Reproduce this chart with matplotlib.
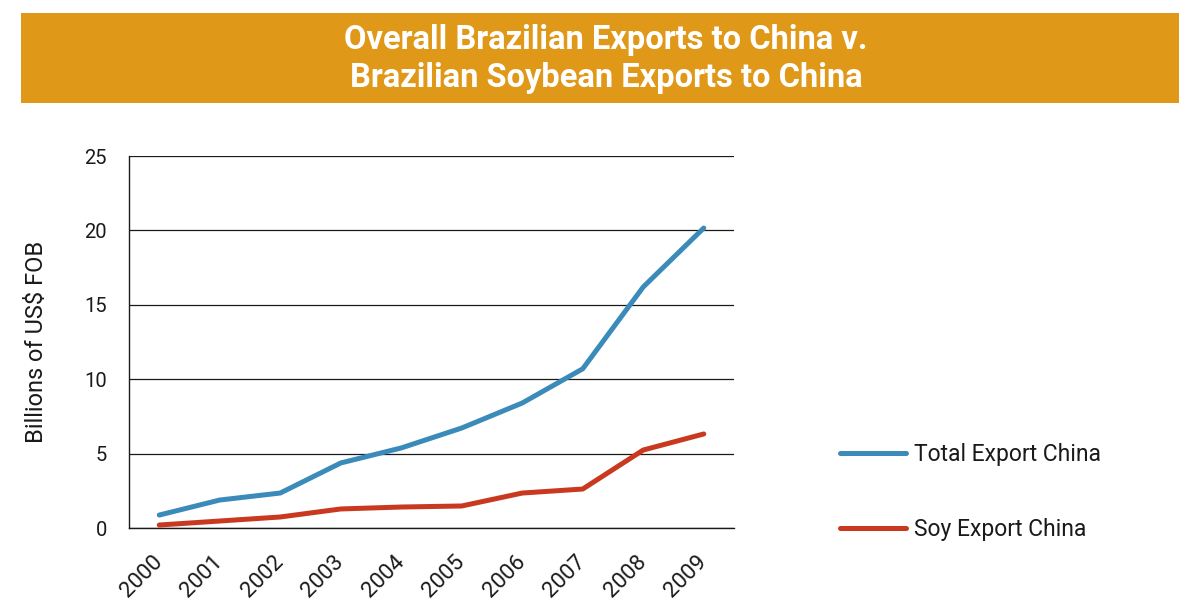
import matplotlib
matplotlib.use("Agg")
import matplotlib.pyplot as plt
from matplotlib.patches import Rectangle

years = ["2000", "2001", "2002", "2003", "2004", "2005", "2006", "2007", "2008", "2009"]
total_export = [0.87, 1.88, 2.35, 4.37, 5.38, 6.72, 8.40, 10.70, 16.20, 20.16]
soy_export = [0.20, 0.47, 0.74, 1.28, 1.41, 1.48, 2.35, 2.62, 5.24, 6.32]
y_ticks = [0, 5, 10, 15, 20, 25]

title_lines = ["Overall Brazilian Exports to China v.", "Brazilian Soybean Exports to China"]

BLUE = "#3b8bba"
RED = "#c9391f"
ORANGE = "#e09818"
INK = "#1a1a1a"
FONT = "Roboto"

W, H = 1179, 599
fig = plt.figure(figsize=(W / 100, H / 100), dpi=100)

# banner
fig.patches.append(Rectangle((21 / W, 1 - 103 / H), 1 - 21 / W, 90 / H,
                             transform=fig.transFigure, facecolor=ORANGE,
                             edgecolor="none", zorder=0))
fig.text(606 / W, 1 - 40 / H, title_lines[0], ha="center", va="center",
         color="white", fontsize=23.5, fontweight="bold", family=FONT)
fig.text(606 / W, 1 - 78 / H, title_lines[1], ha="center", va="center",
         color="white", fontsize=23.5, fontweight="bold", family=FONT)

ax = fig.add_axes([129 / W, 1 - 528 / H, (734 - 129) / W, (528 - 156) / H])
x = range(len(years))
ax.plot(x, total_export, color=BLUE, lw=3.6, solid_capstyle="round",
        label="Total Export China", zorder=3)
ax.plot(x, soy_export, color=RED, lw=3.6, solid_capstyle="round",
        label="Soy Export China", zorder=3)

ax.set_xlim(-0.5, len(years) - 0.5)
ax.set_ylim(0, 25)
ax.set_yticks(y_ticks)
ax.set_yticklabels([str(v) for v in y_ticks], fontsize=14.5, family=FONT,
                   color=INK)
ax.set_xticks(list(x))
ax.set_xticklabels(years, rotation=45, ha="right", va="center",
                   rotation_mode="anchor", fontsize=16, family=FONT, color=INK)
ax.tick_params(axis="y", length=0, pad=16)
ax.tick_params(axis="x", length=0, pad=22)
ax.yaxis.grid(True, color=INK, lw=0.9)
ax.set_axisbelow(True)
for s in ["top", "right"]:
    ax.spines[s].set_visible(False)
for s in ["left", "bottom"]:
    ax.spines[s].set_color(INK)
    ax.spines[s].set_linewidth(1.0)

ax.set_ylabel("Billions of US$ FOB", fontsize=17, family=FONT, color=INK,
              labelpad=26)

handles, labels = ax.get_legend_handles_labels()
leg = fig.legend(handles, labels, loc="upper left",
                 bbox_to_anchor=(819 / W, 1 - 422 / H), frameon=False,
                 prop={"family": FONT, "size": 16.5},
                 handlelength=2.9, handletextpad=0.35, labelspacing=2.3)
for t in leg.get_texts():
    t.set_color(INK)

fig.savefig("out.png", dpi=100)
